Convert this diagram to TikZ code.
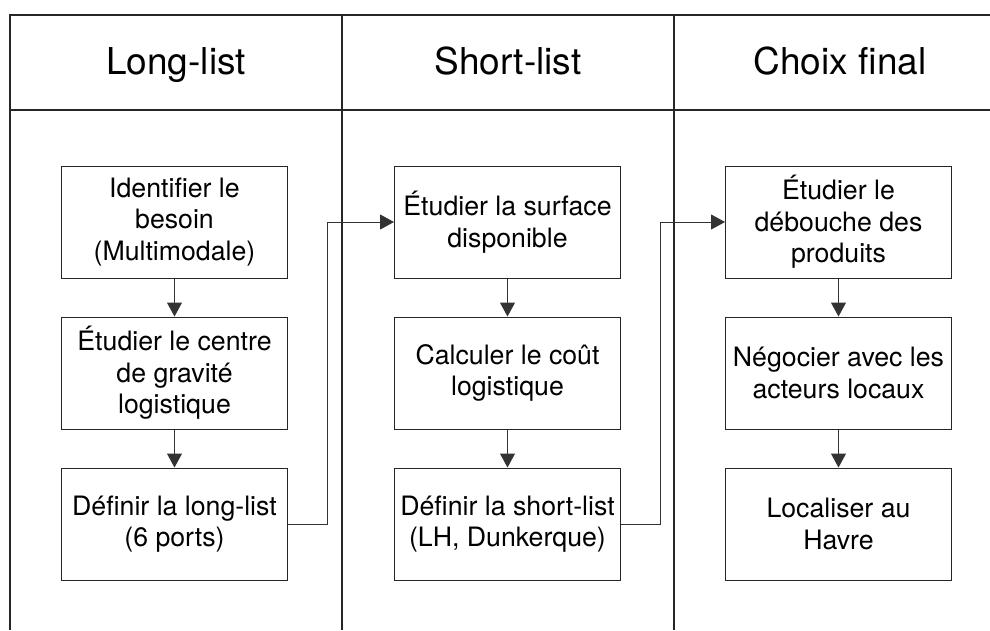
\documentclass[tikz,border=0pt]{standalone}
\usepackage{fontspec}
\setmainfont{TeX Gyre Heros}
\usetikzlibrary{arrows.meta}
\begin{document}
\begin{tikzpicture}[x=1pt,y=-1pt,
  frame/.style={draw=black!85, line width=1.2pt},
  stepbox/.style={draw=black!85, line width=1pt, minimum width=226pt, minimum height=112pt, align=center, inner sep=0pt, font=\fontsize{26.7}{31.5}\selectfont},
  header/.style={font=\fontsize{37}{42}\selectfont, inner sep=0pt, anchor=base},
  flow/.style={draw=black!80, line width=1pt, -{Triangle[width=15pt,length=14pt]}},
]
\useasboundingbox (0,0) rectangle (990,630);
% frame
\draw[frame] (10,630) -- (10,15) -- (990,15);
\draw[frame] (10,110) -- (990,110);
\draw[frame] (342,15) -- (342,630);
\draw[frame] (674,15) -- (674,630);
% headers
\node[header] (h1) at (176,74) {Long-list};
\node[header] (h2) at (508,74) {Short-list};
\node[header] (h3) at (840,74) {Choix final};
% column 1
\node[stepbox] (a1) at (174.5,222) {Identifier le\\besoin\\(Multimodale)};
\node[stepbox] (a2) at (174.5,373) {Étudier le centre\\de gravité\\logistique};
\node[stepbox] (a3) at (174.5,524) {Définir la long-list\\(6 ports)};
% column 2
\node[stepbox] (b1) at (507.5,222) {Étudier la surface\\disponible};
\node[stepbox] (b2) at (507.5,373) {Calculer le coût\\logistique};
\node[stepbox] (b3) at (507.5,524) {Définir la short-list\\(LH, Dunkerque)};
% column 3
\node[stepbox] (c1) at (838.5,222) {Étudier le\\débouche des\\produits};
\node[stepbox] (c2) at (838.5,373) {Négocier avec les\\acteurs locaux};
\node[stepbox] (c3) at (838.5,524) {Localiser au\\Havre};
% vertical arrows
\draw[flow] (a1) -- (a2);
\draw[flow] (a2) -- (a3);
\draw[flow] (b1) -- (b2);
\draw[flow] (b2) -- (b3);
\draw[flow] (c1) -- (c2);
\draw[flow] (c2) -- (c3);
% cross-column connectors
\coordinate (k1) at (327,0);
\coordinate (k2) at (660,0);
\draw[flow] (a3.east) -| (k1 |- a3.east) -- (k1 |- b1.west) -- (b1.west);
\draw[flow] (b3.east) -| (k2 |- b3.east) -- (k2 |- c1.west) -- (c1.west);
\end{tikzpicture}
\end{document}
